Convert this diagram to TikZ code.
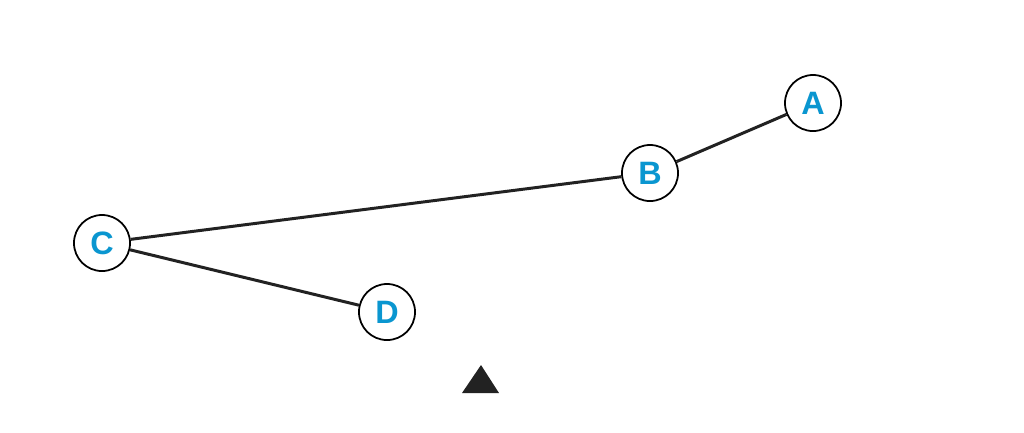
\documentclass[tikz,border=0pt]{standalone}
\usepackage{fontspec}
\setsansfont{Liberation Sans}
\usepackage{xcolor}
\usetikzlibrary{positioning}
\definecolor{letterblue}{RGB}{10,150,208}
\definecolor{linegray}{RGB}{34,34,34}

\begin{document}
\begin{tikzpicture}[
  x=0.01cm, y=-0.01cm,
  every node/.style={font=\sffamily\bfseries\fontsize{9.2}{11}\selectfont},
  vertex/.style={draw=black, circle, fill=white, line width=0.5pt, minimum size=0.56cm, inner sep=0pt, text=letterblue},
  link/.style={draw=linegray, line width=0.85pt}
]
\useasboundingbox (0,0) rectangle (1024,432);
% Nodes
\node[vertex] (a) at (813,103) {A};
\node[vertex] (b) at (650,173) {B};
\node[vertex] (c) at (102,243) {C};
\node[vertex] (d) at (387,312) {D};

% Edges
\draw[link] (a) -- (b);
\draw[link] (b) -- (c);
\draw[link] (c) -- (d);

% Marker
\fill[linegray] (481,365) -- (499,393) -- (462,393) -- cycle;
\end{tikzpicture}
\end{document}
